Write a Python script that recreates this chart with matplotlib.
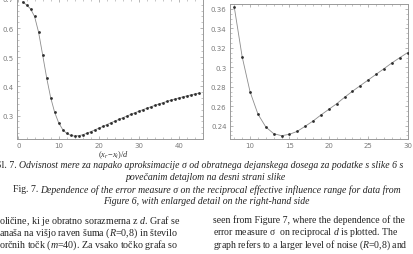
import matplotlib
matplotlib.use('Agg')
import matplotlib.pyplot as plt
from matplotlib.ticker import MultipleLocator, FuncFormatter

plt.rcParams['mathtext.fontset'] = 'custom'
plt.rcParams['mathtext.rm'] = 'Liberation Serif'
plt.rcParams['mathtext.it'] = 'Liberation Serif:italic'

# data: error measure sigma vs reciprocal effective influence range
x_vals = list(range(1, 46))
sigma = [0.690, 0.680, 0.666, 0.640, 0.586, 0.509, 0.430, 0.362, 0.311, 0.275,
         0.252, 0.2387, 0.2318, 0.2297, 0.2311, 0.2342, 0.2394, 0.2448, 0.2510, 0.2568,
         0.2626, 0.2692, 0.2754, 0.2812, 0.2870, 0.2928, 0.2986, 0.3045, 0.3099, 0.3151,
         0.3205, 0.3255, 0.3305, 0.3353, 0.3400, 0.3445, 0.3490, 0.3532, 0.3572, 0.3610,
         0.3645, 0.3680, 0.3713, 0.3745, 0.3775]
detail_from, detail_to = 8, 30

left_xticks = [0, 10, 20, 30, 40]
left_yticks = [0.3, 0.4, 0.5, 0.6, 0.7]
right_xticks = [10, 15, 20, 25, 30]
right_yticks = [0.24, 0.26, 0.28, 0.30, 0.32, 0.34, 0.36]

W, H = 413, 255
fig = plt.figure(figsize=(W / 100, H / 100), dpi=100)
fig.patch.set_facecolor('white')

def px_axes(l, t, r, b):
    return fig.add_axes([l / W, 1 - b / H, (r - l) / W, (b - t) / H])

axL = px_axes(17, 0, 203, 140)
axR = px_axes(230, 5, 408, 140)

for ax in (axL, axR):
    for s in ax.spines.values():
        s.set_color('#9a9a9a')
        s.set_linewidth(0.7)
    ax.tick_params(which='both', direction='in', top=True, right=True,
                   colors='#9a9a9a', labelcolor='#7a7a7a', labelsize=5, pad=2.5)
    ax.tick_params(which='major', length=2.5, width=0.5)
    ax.tick_params(which='minor', length=1.3, width=0.4)

# left: full range
axL.plot(x_vals, sigma, '-', color='#8c8c8c', lw=0.6, zorder=2)
axL.plot(x_vals, sigma, 'o', color='#2e2e2e', ms=2.0, mew=0, zorder=3)
axL.set_xlim(-0.37, 45.9)
axL.set_ylim(0.2196, 0.700)
axL.set_xticks(left_xticks)
axL.set_yticks(left_yticks)
axL.xaxis.set_minor_locator(MultipleLocator(2))
axL.yaxis.set_minor_locator(MultipleLocator(0.02))
axL.yaxis.set_major_formatter(FuncFormatter(lambda v, p: f"{v:.1f}"))

# right: enlarged detail
xd = [x for x in x_vals if detail_from <= x <= detail_to]
yd = [s for x, s in zip(x_vals, sigma) if detail_from <= x <= detail_to]
axR.plot(xd, yd, '-', color='#8c8c8c', lw=0.6, zorder=2)
axR.plot(xd, yd, 'o', color='#2e2e2e', ms=2.0, mew=0, zorder=3)
axR.set_xlim(7.46, 30.05)
axR.set_ylim(0.2263, 0.3651)
axR.set_xticks(right_xticks)
axR.set_yticks(right_yticks)
axR.xaxis.set_minor_locator(MultipleLocator(1))
axR.yaxis.set_minor_locator(MultipleLocator(0.005))
axR.yaxis.set_major_formatter(FuncFormatter(lambda v, p: f"{v:.2f}".rstrip('0')))

# x label of left panel
fig.text(113 / W, 1 - 155 / H, r'$(x_r\!-\!x_i)/d$', fontsize=6, color='#333333',
         ha='center', va='center')

serif = 'Liberation Serif'
tc = '#222222'
fs = 7

def seg_line(x_px, y_px, segments, center=False, gap=2.2):
    fig.canvas.draw()
    r = fig.canvas.get_renderer()
    texts = []
    widths = []
    for txt, style in segments:
        t = fig.text(0, 0, txt, fontsize=fs, family=serif, style=style, color=tc,
                     ha='left', va='center')
        widths.append(t.get_window_extent(renderer=r).width)
        texts.append(t)
    total = sum(widths) + gap * (len(segments) - 1)
    x0 = x_px - total / 2 if center else x_px
    for t, w in zip(texts, widths):
        t.set_position((x0 / W, 1 - y_px / H))
        x0 += w + gap

seg_line(-4, 166, [('Sl. 7.', 'normal'),
                   ('Odvisnost mere za napako aproksimacije σ od obratnega dejanskega dosega za podatke s slike 6 s', 'italic')])
seg_line(206, 178, [('povečanim detajlom na desni strani slike', 'italic')], center=True)
seg_line(207, 190, [('Fig. 7.', 'normal'),
                    ('Dependence of the error measure σ on the reciprocal effective influence range for data from', 'italic')],
         center=True)
seg_line(206, 202, [('Figure 6, with enlarged detail on the right-hand side', 'italic')], center=True)

left_body = ['oličine, ki je obratno sorazmerna z $d$. Graf se',
             'anaša na višjo raven šuma ($R$=0,8) in število',
             'orčnih točk ($m$=40). Za vsako točko grafa so']
right_body = ['seen from Figure 7, where the dependence of the',
              'error measure σ  on reciprocal $d$ is plotted. The',
              'graph refers to a larger level of noise ($R$=0,8) and']
for i, (lt, rt) in enumerate(zip(left_body, right_body)):
    y = 1 - (220.5 + 12.3 * i) / H
    fig.text(-1 / W, y, lt, fontsize=7.2, family=serif, color=tc, ha='left', va='center')
    fig.text(213 / W, y, rt, fontsize=fs, family=serif, color=tc, ha='left', va='center')

fig.savefig('out.png', dpi=100)
